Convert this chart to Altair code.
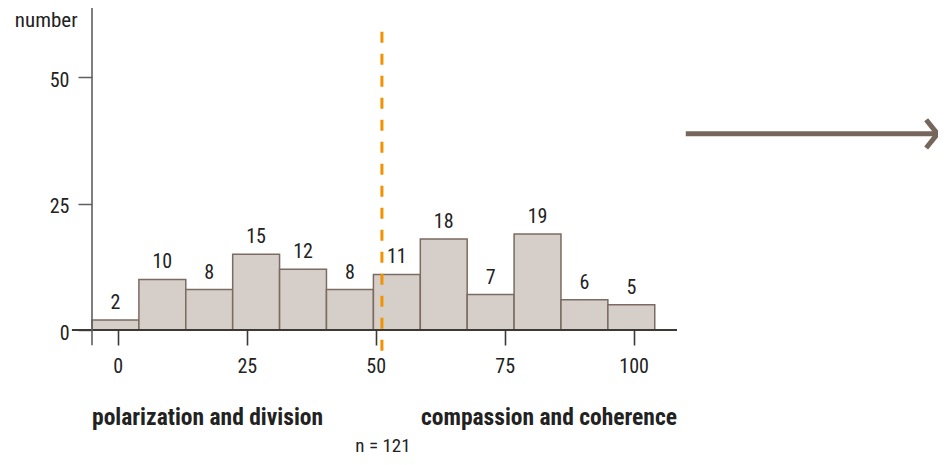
import altair as alt
import pandas as pd

# ---- data ----
bin_start = [-5.0, 4.09, 13.18, 22.27, 31.36, 40.45, 49.55, 58.64, 67.73, 76.82, 85.91, 95.0]
bin_end = [4.09, 13.18, 22.27, 31.36, 40.45, 49.55, 58.64, 67.73, 76.82, 85.91, 95.0, 104.09]
counts = [2, 10, 8, 15, 12, 8, 11, 18, 7, 19, 6, 5]
x_ticks = [0, 25, 50, 75, 100]
y_ticks = [0, 25, 50]
mean_value = 51.2
sample_label = "n = 121"
left_label = "polarization and division"
right_label = "compassion and coherence"
y_title = "number"

X_DOMAIN = [-5, 108.4]
Y_DOMAIN = [0, 63.7]

FONT = "Roboto Condensed, Liberation Sans Narrow, DejaVu Sans Condensed, sans-serif"
BAR_FILL = "#d6cec9"
BAR_STROKE = "#7b6b61"
ARROW = "#76665b"
ORANGE = "#f39200"
TEXT = "#222222"

bars_df = pd.DataFrame({"x0": bin_start, "x1": bin_end, "n": counts})
bars_df["mid"] = (bars_df["x0"] + bars_df["x1"]) / 2

xs = alt.Scale(domain=X_DOMAIN, nice=False, zero=False)
ys = alt.Scale(domain=Y_DOMAIN, nice=False, zero=False)

base = alt.Chart(bars_df)

bars = base.mark_rect(fill=BAR_FILL, stroke=BAR_STROKE, strokeWidth=1.5).encode(
    x=alt.X("x0:Q", scale=xs, axis=alt.Axis(
        values=x_ticks, title=None, domain=False, grid=False, ticks=True,
        tickSize=15, tickColor="#3d3935", tickWidth=1.6,
        labelFont=FONT, labelFontSize=20, labelColor=TEXT, labelPadding=11)),
    x2="x1:Q",
    y=alt.Y("n:Q", scale=ys, axis=alt.Axis(
        values=y_ticks, title=None, domain=False, grid=False,
        tickSize=14, tickColor="#5f5f5f", tickWidth=1.5,
        labelFont=FONT, labelFontSize=20, labelColor=TEXT, labelPadding=9,
        labelOffset=3)),
    y2=alt.datum(0),
)

bar_labels = base.mark_text(font=FONT, fontSize=20, color=TEXT, baseline="alphabetic", dy=-11).encode(
    x=alt.X("mid:Q", scale=xs), y=alt.Y("n:Q", scale=ys), text="n:Q"
)

# axis lines
xaxis_df = pd.DataFrame({"x": [-8.9], "x2": [108.4], "y": [0]})
xaxis_line = alt.Chart(xaxis_df).mark_rule(color="#3d3935", strokeWidth=2).encode(
    x=alt.X("x:Q", scale=xs), x2="x2:Q", y=alt.Y("y:Q", scale=ys)
)
yaxis_df = pd.DataFrame({"x": [-5], "y": [-3], "y2": [63.7]})
yaxis_line = alt.Chart(yaxis_df).mark_rule(color="#5f5f5f", strokeWidth=1.6).encode(
    x=alt.X("x:Q", scale=xs), y=alt.Y("y:Q", scale=ys), y2="y2:Q"
)

# mean dashed line
mean_df = pd.DataFrame({"x": [mean_value], "y": [59], "y2": [-4.2]})
mean_line = alt.Chart(mean_df).mark_rule(color=ORANGE, strokeWidth=3, strokeDash=[11, 11]).encode(
    x=alt.X("x:Q", scale=xs), y=alt.Y("y:Q", scale=ys), y2="y2:Q"
)

# texts
ytitle = alt.Chart(pd.DataFrame({"x": [-7.8], "y": [61.2], "t": [y_title]})).mark_text(
    font=FONT, fontSize=21, color=TEXT, align="right", baseline="middle").encode(
    x=alt.X("x:Q", scale=xs), y=alt.Y("y:Q", scale=ys), text="t:N")

left_txt = alt.Chart(pd.DataFrame({"x": [-5], "y": [-17.4], "t": [left_label]})).mark_text(
    font=FONT, fontSize=23.5, fontWeight="bold", color=TEXT, align="left", baseline="middle").encode(
    x=alt.X("x:Q", scale=xs), y=alt.Y("y:Q", scale=ys), text="t:N")
right_txt = alt.Chart(pd.DataFrame({"x": [108.4], "y": [-17.4], "t": [right_label]})).mark_text(
    font=FONT, fontSize=23.5, fontWeight="bold", color=TEXT, align="right", baseline="middle").encode(
    x=alt.X("x:Q", scale=xs), y=alt.Y("y:Q", scale=ys), text="t:N")
n_txt = alt.Chart(pd.DataFrame({"x": [51.4], "y": [-23.0], "t": [sample_label]})).mark_text(
    font=FONT, fontSize=19, color=TEXT, align="center", baseline="middle").encode(
    x=alt.X("x:Q", scale=xs), y=alt.Y("y:Q", scale=ys), text="t:N")

# arrow
shaft_df = pd.DataFrame({"x": [110.1], "x2": [158.6], "y": [38.8]})
shaft = alt.Chart(shaft_df).mark_rule(color=ARROW, strokeWidth=5).encode(
    x=alt.X("x:Q", scale=xs), x2="x2:Q", y=alt.Y("y:Q", scale=ys))
head_df = pd.DataFrame({"x": [156.7, 158.9, 156.7], "y": [41.6, 38.8, 36.0], "o": [0, 1, 2]})
head = alt.Chart(head_df).mark_line(color=ARROW, strokeWidth=5, strokeCap="butt", strokeJoin="miter").encode(
    x=alt.X("x:Q", scale=xs), y=alt.Y("y:Q", scale=ys), order="o:Q")

chart = alt.layer(
    bars, bar_labels, xaxis_line, yaxis_line, mean_line, ytitle, left_txt, right_txt, n_txt, shaft, head
).properties(
    width=585, height=322,
    background="white",
    autosize=alt.AutoSizeParams(type="none"),
    padding={"left": 84, "top": 0, "right": 261, "bottom": 127},
).configure_view(stroke=None)

chart.save("out.html", embed_options={"renderer": "svg", "actions": False})
